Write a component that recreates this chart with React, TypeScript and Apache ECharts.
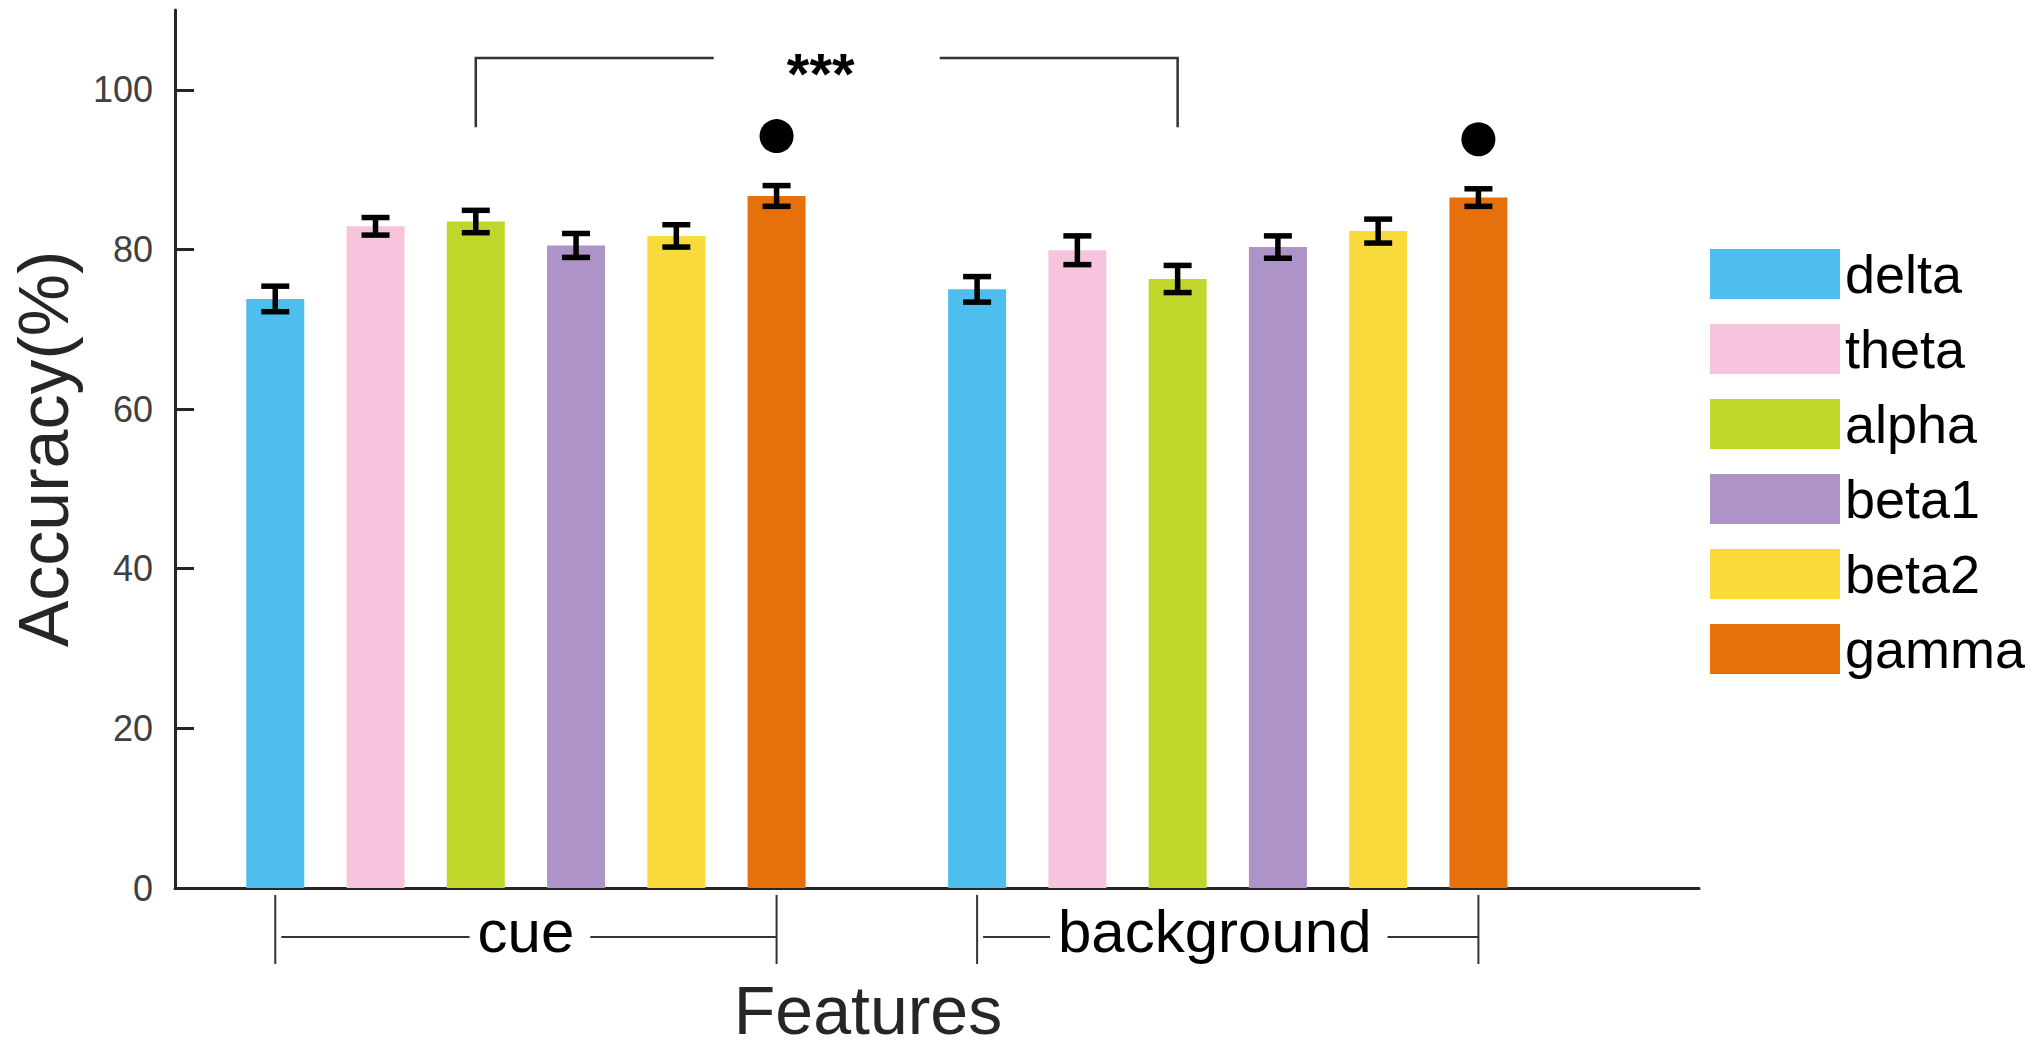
import React, { useEffect, useRef } from "react";
import * as echarts from "echarts";

// ---------- data ----------
const bands = ["delta", "theta", "alpha", "beta1", "beta2", "gamma"];
const bandColors = ["#4DBEEE", "#F6C5DD", "#C0D62A", "#AD93C7", "#F8DA3B", "#E6700C"];
const groups = ["cue", "background"];
const groupFirstSlot = [1, 8]; // x slot of the first bar of each group
const cueMeans = [73.8, 82.9, 83.5, 80.5, 81.7, 86.7];
const cueErrors = [1.6, 1.1, 1.4, 1.5, 1.4, 1.3];
const bgMeans = [75.0, 79.9, 76.3, 80.3, 82.3, 86.5];
const bgErrors = [1.6, 1.8, 1.7, 1.4, 1.5, 1.1];
const dotPoints = [
  [6, 94.2],
  [13, 93.8],
];
const sigBrackets = [[3, 10, 95.3, 104]]; // [xFrom, xTo, yLow, yHigh]
const sigLabel = "***";
const yTicks = [0, 20, 40, 60, 80, 100];
const yMin = 0;
const yMax = 110;
const xMin = 0;
const xMax = 15.2;
const yAxisTitle = "Accuracy(%)";
const xAxisTitle = "Features";

const FONT = '"Liberation Sans", Arial, Helvetica, sans-serif';

function textWidth(text: string, size: number, weight = "normal") {
  const c = document.createElement("canvas").getContext("2d");
  if (!c) return text.length * size * 0.5;
  c.font = `${weight} ${size}px "Liberation Sans", Arial, sans-serif`;
  return c.measureText(text).width;
}

export default function App() {
  const ref = useRef<HTMLDivElement>(null);

  useEffect(() => {
    document.body.style.margin = "0";
    document.body.style.overflow = "hidden";
    if (!ref.current) return;
    const chart = echarts.init(ref.current, null, { renderer: "svg" });

    const means = [cueMeans, bgMeans];
    const errors = [cueErrors, bgErrors];

    const barSeries = bands.map((b, i) => ({
      type: "bar",
      name: b,
      barWidth: 58,
      barGap: "-100%",
      itemStyle: { color: bandColors[i], borderWidth: 0 },
      data: groups.map((_, gi) => [groupFirstSlot[gi] + i, means[gi][i]]),
      z: 2,
    }));

    const errData: number[][] = [];
    groups.forEach((_, gi) =>
      bands.forEach((__, i) => errData.push([groupFirstSlot[gi] + i, means[gi][i], errors[gi][i]]))
    );

    const errSeries = {
      type: "custom",
      name: "err",
      z: 5,
      encode: { x: 0, y: 1 },
      data: errData,
      renderItem: (_p: any, api: any) => {
        const x = api.value(0);
        const m = api.value(1);
        const e = api.value(2);
        const top = api.coord([x, m + e]);
        const bot = api.coord([x, m - e]);
        const hw = 14;
        const st = { stroke: "#000", lineWidth: 5.5 };
        return {
          type: "group",
          children: [
            { type: "line", shape: { x1: top[0], y1: top[1], x2: bot[0], y2: bot[1] }, style: st },
            { type: "line", shape: { x1: top[0] - hw, y1: top[1], x2: top[0] + hw, y2: top[1] }, style: st },
            { type: "line", shape: { x1: bot[0] - hw, y1: bot[1], x2: bot[0] + hw, y2: bot[1] }, style: st },
          ],
        };
      },
    };

    const dotSeries = {
      type: "scatter",
      name: "marker",
      symbol: "circle",
      symbolSize: 34,
      itemStyle: { color: "#000", opacity: 1 },
      data: dotPoints,
      z: 6,
    };

    const sigSeries = {
      type: "custom",
      name: "sig",
      z: 6,
      encode: { x: [0, 1], y: [2, 3] },
      data: sigBrackets,
      renderItem: (_p: any, api: any) => {
        const a = api.coord([api.value(0), api.value(3)]);
        const aLow = api.coord([api.value(0), api.value(2)]);
        const b = api.coord([api.value(1), api.value(3)]);
        const bLow = api.coord([api.value(1), api.value(2)]);
        const mid = (a[0] + b[0]) / 2;
        const gap = 113;
        const st = { stroke: "#333", lineWidth: 2.5, fill: null };
        return {
          type: "group",
          children: [
            { type: "polyline", shape: { points: [[aLow[0], aLow[1]], [a[0], a[1]], [mid - gap, a[1]]] }, style: st },
            { type: "polyline", shape: { points: [[mid + gap, b[1]], [b[0], b[1]], [bLow[0], bLow[1]]] }, style: st },
            {
              type: "text",
              style: {
                text: sigLabel,
                x: mid - 6,
                y: a[1] + 16,
                fontSize: 58,
                fontWeight: "bold",
                fontFamily: FONT,
                fill: "#000",
                align: "center",
                verticalAlign: "middle",
              },
            },
          ],
        };
      },
    };

    const groupSeries = {
      type: "custom",
      name: "groups",
      z: 6,
      clip: false,
      encode: { x: [0, 1], y: 2 },
      data: groups.map((_, gi) => [groupFirstSlot[gi], groupFirstSlot[gi] + bands.length - 1, 0, gi]),
      renderItem: (_p: any, api: any) => {
        const gi = api.value(3);
        const label = groups[gi];
        const p0 = api.coord([api.value(0), 0]);
        const p1 = api.coord([api.value(1), 0]);
        const y0 = p0[1];
        const yTop = y0 + 7;
        const yBot = y0 + 76;
        const yMid = y0 + 49;
        const shift = gi === 1 ? -13 : 0;
        const cx = (p0[0] + p1[0]) / 2 + shift;
        const w = textWidth(label, 60);
        const st = { stroke: "#333", lineWidth: 2, fill: null };
        return {
          type: "group",
          children: [
            { type: "line", shape: { x1: p0[0], y1: yTop, x2: p0[0], y2: yBot }, style: st },
            { type: "line", shape: { x1: p1[0], y1: yTop, x2: p1[0], y2: yBot }, style: st },
            { type: "line", shape: { x1: p0[0] + 6, y1: yMid, x2: cx - w / 2 - 8, y2: yMid }, style: st },
            { type: "line", shape: { x1: cx + w / 2 + 16, y1: yMid, x2: p1[0], y2: yMid }, style: st },
            {
              type: "text",
              style: {
                text: label,
                x: cx,
                y: y0 + 43,
                fontSize: 60,
                fontFamily: FONT,
                fill: "#000",
                align: "center",
                verticalAlign: "middle",
              },
            },
          ],
        };
      },
    };

    chart.setOption({
      animation: false,
      backgroundColor: "#fff",
      textStyle: { fontFamily: FONT },
      grid: { left: 175, top: 10, width: 1524, height: 878, containLabel: false },
      xAxis: {
        type: "value",
        min: xMin,
        max: xMax,
        axisLine: { show: true, onZero: false, lineStyle: { color: "#262626", width: 3 } },
        axisTick: { show: false },
        axisLabel: { show: false },
        splitLine: { show: false },
      },
      yAxis: {
        type: "value",
        min: yMin,
        max: yMax,
        interval: 20,
        name: yAxisTitle,
        nameLocation: "middle",
        nameGap: 96,
        nameMoveOverlap: false,
        nameTextStyle: { fontSize: 70, color: "#262626", fontFamily: FONT },
        axisLine: { show: true, lineStyle: { color: "#262626", width: 3 } },
        axisTick: {
          show: true,
          inside: true,
          length: 19,
          lineStyle: { color: "#262626", width: 3 },
          customValues: yTicks,
        },
        axisLabel: {
          show: true,
          margin: 22,
          fontSize: 36,
          color: "#404040",
          fontFamily: FONT,
          customValues: yTicks,
        },
        splitLine: { show: false },
      },
      legend: {
        data: bands,
        orient: "vertical",
        left: 1705,
        top: 242,
        itemWidth: 130,
        itemHeight: 50,
        itemGap: 21,
        icon: "rect",
        selectedMode: false,
        itemStyle: { borderWidth: 0 },
        textStyle: { fontSize: 54, color: "#000", fontFamily: FONT, lineHeight: 50 },
      },
      graphic: [
        {
          type: "text",
          x: 868,
          y: 1010,
          style: {
            text: xAxisTitle,
            fontSize: 68,
            fontFamily: FONT,
            fill: "#262626",
            align: "center",
            verticalAlign: "middle",
          },
        },
      ],
      series: [...barSeries, errSeries, dotSeries, sigSeries, groupSeries],
    });

    return () => chart.dispose();
  }, []);

  return <div ref={ref} style={{ width: 2034, height: 1051 }} />;
}
